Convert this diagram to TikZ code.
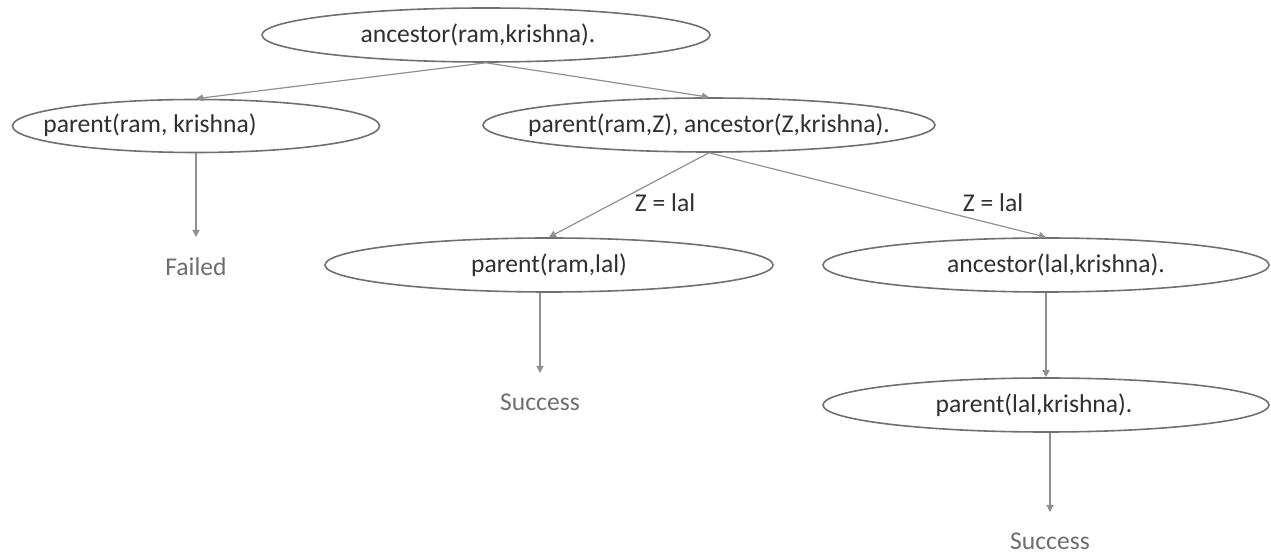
\documentclass[tikz,border=0pt]{standalone}
\usepackage{fontspec}
\setmainfont{Carlito}
\usepackage{xcolor}
\usetikzlibrary{arrows.meta,shapes.geometric}
\definecolor{txtgray}{HTML}{303030}
\definecolor{resgray}{HTML}{6E6E6E}
\definecolor{edgegray}{HTML}{707070}
\definecolor{linegray}{HTML}{909090}
\newcommand{\goaltext}[2][0pt]{\makebox[0pt]{\hspace*{#1}\hspace*{#1}#2}}
\begin{document}
\begin{tikzpicture}[x=0.5pt,y=-0.5pt,font=\fontsize{12.8}{15}\selectfont]
  \tikzstyle{goal}=[draw=edgegray,line width=0.8pt,ellipse,inner sep=0pt,minimum width=224pt,minimum height=27pt,fill=white,text=txtgray]
  \tikzstyle{res}=[anchor=north,inner xsep=1pt,inner ysep=10pt,text=resgray]
  \tikzstyle{lbl}=[text=txtgray,inner sep=1pt]
  \tikzstyle{arr}=[draw=linegray,line width=0.6pt,-{Triangle[length=3.5pt,width=3.5pt]}]
  \useasboundingbox (0,0) rectangle (1271,555);
  % Root goal
  \node[goal] (anc) at (486,35) {\goaltext[-4pt]{ancestor(ram,krishna).}};
  % First level
  \node[goal,minimum width=183.5pt,minimum height=26.5pt] (pk) at (196,126) {};
  \node[text=txtgray,anchor=west,inner sep=0pt] (pkt) at (43,125) {parent(ram, krishna)};
  \node[goal,minimum width=226pt] (pz) at (709,125) {\goaltext{parent(ram,Z), ancestor(Z,krishna).}};
  \node[res] (fl) at (196,237) {Failed};
  % Second level
  \node[goal] (pl) at (549,265) {\goaltext{parent(ram,lal)}};
  \node[goal,minimum width=223pt] (al) at (1046,265) {\goaltext[5pt]{ancestor(lal,krishna).}};
  \node[res] (s1) at (540,373) {Success};
  \node[lbl] (z1) at (665,203) {Z = lal};
  \node[lbl] (z2) at (993,203) {Z = lal};
  % Third level
  \node[goal,minimum width=223pt] (pk2) at (1046,405) {\goaltext[-6pt]{parent(lal,krishna).}};
  \node[res] (s2) at (1050,512) {Success};
  % Edges
  \draw[arr] (anc.south) -- (pk.north);
  \draw[arr] (anc.south) -- (pz.north);
  \draw[arr] (pk.south) -- (fl.north);
  \draw[arr] (pz.south) -- (pl.north);
  \draw[arr] (pz.south) -- (al.north);
  \draw[arr] (pl.south -| s1.north) -- (s1.north);
  \draw[arr] (al.south) -- (pk2.north);
  \draw[arr] (pk2.south -| s2.north) -- (s2.north);
\end{tikzpicture}
\end{document}
